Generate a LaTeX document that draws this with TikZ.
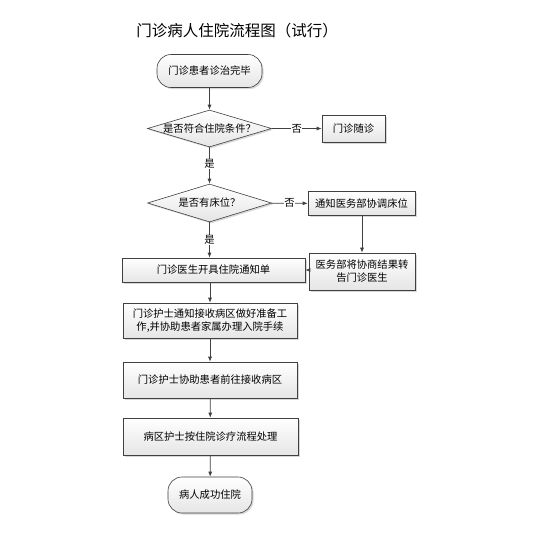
\documentclass[tikz,border=0pt]{standalone}
\usepackage{fontspec}
\setmainfont{Noto Sans CJK SC}
\newfontfamily\cjk{Noto Sans CJK SC}
\usetikzlibrary{shapes.geometric,arrows.meta,shadows}
\tikzset{
  base/.style={draw=black!75, line width=0.6pt, top color=white, bottom color=black!10,
    drop shadow={shadow xshift=1.5pt, shadow yshift=-1.5pt, fill=black!25, opacity=0.6},
    font=\cjk\fontsize{10.3}{13}\selectfont, align=center, inner sep=1pt},
  procbox/.style={base, rectangle},
  termbox/.style={base, rectangle, rounded corners=14pt},
  decbox/.style={base, diamond, aspect=3.5},
  conn/.style={draw=black!75, line width=0.7pt, -{Latex[length=5pt,width=4pt]}},
  lbl/.style={font=\cjk\fontsize{10.3}{13}\selectfont, fill=white, inner sep=0.5pt}
}
\begin{document}
\begin{tikzpicture}[x=1pt,y=-1pt]
\useasboundingbox[fill=white] (0,0) rectangle (534,547);
\node[font=\cjk\fontsize{15.5}{18}\selectfont] (title) at (237,31) {门诊病人住院流程图（试行）};
\node[termbox, minimum width=105pt, minimum height=33pt] (start) at (209.5,71) {门诊患者诊治完毕};
\node[decbox, minimum width=124pt, minimum height=37pt, inner sep=0pt] (d1) at (209.5,128.5) {};
\node[font=\cjk\fontsize{10.3}{13}\selectfont] (d1t) at (209.5,128.5) {是否符合住院条件？};
\node[procbox, minimum width=63pt, minimum height=27pt] (follow) at (353.5,128.5) {门诊随诊};
\node[decbox, minimum width=124pt, minimum height=38pt, inner sep=0pt] (d2) at (209.5,203) {};
\node[font=\cjk\fontsize{10.3}{13}\selectfont] (d2t) at (209.5,203) {是否有床位？};
\node[procbox, minimum width=107pt, minimum height=24pt] (notify) at (361.5,203.5) {通知医务部协调床位};
\node[procbox, minimum width=106pt, minimum height=37pt] (result) at (362,271.5) {医务部将协商结果转\\告门诊医生};
\node[procbox, minimum width=183pt, minimum height=24pt] (doctor) at (213.5,270) {门诊医生开具住院通知单};
\node[procbox, minimum width=174pt, minimum height=35pt] (nurse1) at (210,320.5) {门诊护士通知接收病区做好准备工\\作,并协助患者家属办理入院手续};
\node[procbox, minimum width=174pt, minimum height=36pt] (nurse2) at (210,380) {门诊护士协助患者前往接收病区};
\node[procbox, minimum width=175pt, minimum height=37pt] (ward) at (210.5,436.5) {病区护士按住院诊疗流程处理};
\node[termbox, minimum width=84pt, minimum height=36pt] (done) at (210,495) {病人成功住院};
\draw[conn] (start) -- (d1);
\draw[conn] (d1) -- node[lbl]{否} (follow);
\draw[conn] (d1) -- node[lbl, pos=0.45]{是} (d2);
\draw[conn] (d2) -- node[lbl]{否} (notify);
\draw[conn] (d2.south) -- node[lbl, pos=0.5]{是} (d2.south |- doctor.north);
\draw[conn] (notify.south -| result.north) -- (result.north);
\draw[conn] (result.west |- doctor.east) -- (doctor.east);
\draw[conn] (doctor.south -| nurse1.north) -- (nurse1.north);
\draw[conn] (nurse1) -- (nurse2);
\draw[conn] (nurse2) -- (ward);
\draw[conn] (ward) -- (done);
\end{tikzpicture}
\end{document}
